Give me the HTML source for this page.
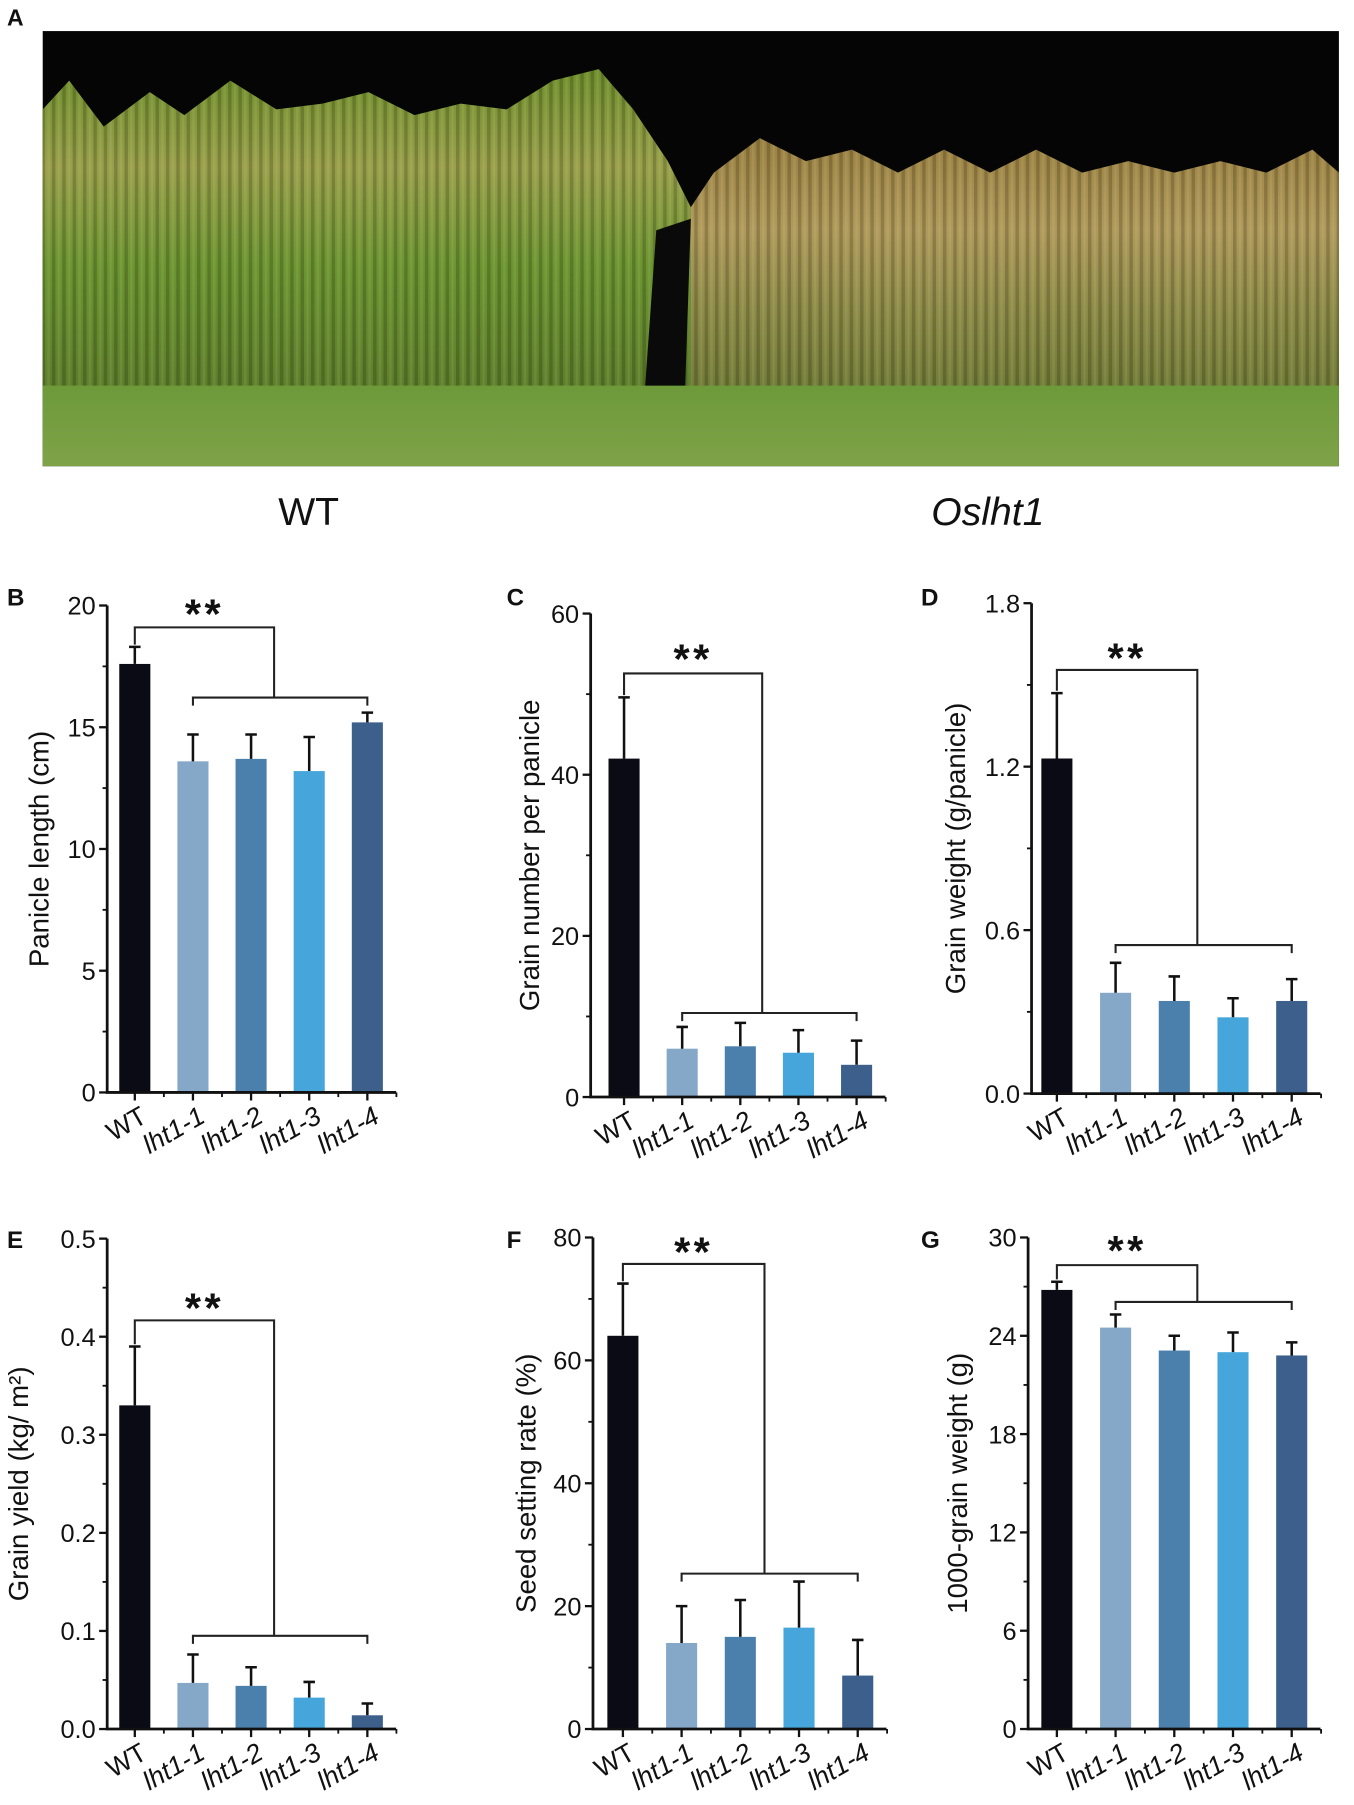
<!DOCTYPE html>
<html><head><meta charset="utf-8"><style>
html,body{margin:0;padding:0;background:#fff}
svg{display:block}
text{font-family:"Liberation Sans",Arial,sans-serif;fill:#111}
</style></head><body>
<svg id="fig" width="1354" height="1805" viewBox="0 0 1176 1568" xmlns="http://www.w3.org/2000/svg">
<defs>
<linearGradient id="wtg" x1="0" y1="0" x2="0" y2="1"><stop offset="0" stop-color="#6f8f2c"/><stop offset="0.3" stop-color="#9aa04a"/><stop offset="0.6" stop-color="#6c9530"/><stop offset="1" stop-color="#5d7d2a"/></linearGradient>
<linearGradient id="mtg" x1="0" y1="0" x2="0" y2="1"><stop offset="0" stop-color="#9a8040"/><stop offset="0.35" stop-color="#b09a5a"/><stop offset="0.7" stop-color="#8a8a45"/><stop offset="1" stop-color="#6f7a35"/></linearGradient>
<linearGradient id="grd" x1="0" y1="0" x2="0" y2="1"><stop offset="0" stop-color="#6d9a3a"/><stop offset="1" stop-color="#7fa248"/></linearGradient>
<pattern id="stripes" width="9" height="40" patternUnits="userSpaceOnUse"><rect width="3" height="40" fill="#000" opacity="0.18"/><rect x="5" width="2" height="40" fill="#fff" opacity="0.08"/></pattern>
</defs>
<text x="6" y="22" font-size="20" font-weight="bold">A</text>
<g>
<rect x="37" y="27" width="1126" height="378" fill="#050505"/>
<polygon points="37,95 60,70 90,110 130,80 160,100 200,70 240,95 280,90 320,80 360,100 400,90 440,95 480,70 520,60 550,95 580,140 600,180 600,345 37,345" fill="url(#wtg)"/>
<polygon points="600,180 620,150 660,120 700,140 740,130 780,150 820,130 860,150 900,130 940,150 980,140 1020,150 1060,140 1100,150 1140,130 1163,150 1163,345 600,345" fill="url(#mtg)"/>
<polygon points="37,95 60,70 90,110 130,80 160,100 200,70 240,95 280,90 320,80 360,100 400,90 440,95 480,70 520,60 550,95 580,140 600,180 620,150 660,120 700,140 740,130 780,150 820,130 860,150 900,130 940,150 980,140 1020,150 1060,140 1100,150 1140,130 1163,150 1163,345 37,345" fill="url(#stripes)"/>
<polygon points="570,200 600,190 595,340 560,340" fill="#0a0a0a"/>
<rect x="37" y="335" width="1126" height="70" fill="url(#grd)"/>
</g>
<text x="268" y="456" font-size="34" text-anchor="middle">WT</text>
<text x="858" y="456" font-size="34" font-style="italic" text-anchor="middle">Oslht1</text>
<g id="charts"></g>
</svg>
<script>
const categories = ["WT","lht1-1","lht1-2","lht1-3","lht1-4"];
const colors = ["#0b0b16","#86a8c8","#4b80ad","#46a6db","#3d5f8c"];
const bValues = [17.6,13.6,13.7,13.2,15.2];
const bErrors = [0.7,1.1,1.0,1.4,0.4];
const bTicks = [0,5,10,15,20];
const cValues = [42,6,6.3,5.5,4];
const cErrors = [7.6,2.7,2.9,2.8,3];
const cTicks = [0,20,40,60];
const dValues = [1.23,0.37,0.34,0.28,0.34];
const dErrors = [0.24,0.11,0.09,0.07,0.08];
const dTicks = [0.0,0.6,1.2,1.8];
const dTickLabels = ["0.0","0.6","1.2","1.8"];
const eValues = [0.33,0.047,0.044,0.032,0.014];
const eErrors = [0.06,0.029,0.019,0.016,0.012];
const eTicks = [0,0.1,0.2,0.3,0.4,0.5];
const eTickLabels = ["0.0","0.1","0.2","0.3","0.4","0.5"];
const fValues = [64,14,15,16.5,8.7];
const fErrors = [8.5,6,6,7.5,5.8];
const fTicks = [0,20,40,60,80];
const gValues = [26.8,24.5,23.1,23,22.8];
const gErrors = [0.5,0.8,0.9,1.2,0.8];
const gTicks = [0,6,12,18,24,30];

const NS="http://www.w3.org/2000/svg";
const root=document.getElementById('charts');
function mk(tag,attrs,parent,txt){const e=document.createElementNS(NS,tag);for(const k in attrs)e.setAttribute(k,attrs[k]);if(txt!==undefined)e.textContent=txt;parent.appendChild(e);return e;}

function panel(id,letter,lx,ly,axX,yTop,yBot,x0,step,vals,errs,ticks,tickLabels,ylabel,ylx,brTop,brEnd,brLow,starY){
  const g=mk('g',{},root);
  
  
  const max=ticks[ticks.length-1];
  const y=v=>yBot-(v/max)*(yBot-yTop);
  const x=i=>x0+i*step;
  const lt=mk('text',{x:lx,y:ly,'font-size':21,'font-weight':'bold'},g,letter);
  
  
  vals.forEach((v,i)=>{
    const b=mk('rect',{x:x(i)-13.5,y:y(v),width:27,height:yBot-y(v),fill:colors[i]},g);
    
    
    const top=y(v+errs[i]);
    const eb=mk('path',{d:`M${x(i)},${y(v)}V${top}M${x(i)-5},${top}H${x(i)+5}`,stroke:'#111','stroke-width':2.2,fill:'none'},g);
    
    
  });
  const ax=mk('path',{d:`M${axX},${yTop}V${yBot}H${x(4)+25}`,stroke:'#111','stroke-width':2.4,fill:'none'},g);
  
  
  ticks.forEach((t,i)=>{
    mk('line',{x1:axX-7,x2:axX,y1:y(t),y2:y(t),stroke:'#111','stroke-width':2},g);
    if(i<ticks.length-1){const m=(t+ticks[i+1])/2;mk('line',{x1:axX-4,x2:axX,y1:y(m),y2:y(m),stroke:'#111','stroke-width':1.6},g);}
    const tl=mk('text',{x:axX-10,y:y(t)+8,'font-size':22,'text-anchor':'end'},g,tickLabels?tickLabels[i]:String(t));
    
    
  });
  for(let i=0;i<5;i++){
    mk('line',{x1:x(i),x2:x(i),y1:yBot,y2:yBot+7,stroke:'#111','stroke-width':2},g);
    mk('line',{x1:x(i)+step/2,x2:x(i)+step/2,y1:yBot,y2:yBot+4,stroke:'#111','stroke-width':1.6},g);
    const t=mk('text',{x:x(i)+12,y:yBot+25,'font-size':23,'text-anchor':'end','font-style':i?'italic':'normal',transform:`rotate(-30 ${x(i)+12} ${yBot+25})`},g,categories[i]);
    
    
  }
  const yl=mk('text',{x:ylx,y:(yTop+yBot)/2,'font-size':24,'text-anchor':'middle',transform:`rotate(-90 ${ylx} ${(yTop+yBot)/2})`},g,ylabel);
  
  
  const br=mk('path',{d:`M${x(0)},${y(vals[0]+errs[0])-2}V${brTop}H${brEnd}V${brLow}M${x(1)},${brLow+7}V${brLow}H${x(4)}V${brLow+7}`,stroke:'#222','stroke-width':1.8,fill:'none'},g);
  
  
  const st=mk('text',{x:(x(0)+brEnd)/2,y:starY+6,'font-size':36,'font-weight':'bold','text-anchor':'middle','letter-spacing':'3'},g,'**');
  
  
  return g;
}
panel('b','B',6,526,93,526,949,117,50.5,bValues,bErrors,bTicks,null,'Panicle length (cm)',42,545,238,606,540);
panel('c','C',440,526,513,533,953,542,50.5,cValues,cErrors,cTicks,null,'Grain number per panicle',468,585,662,880,579);
panel('d','D',800,526,896,524,950,918,51,dValues,dErrors,dTicks,dTickLabels,'Grain weight (g/panicle)',838,582,1040,821,578);
panel('e','E',6,1084,93,1076,1502,117,50.5,eValues,eErrors,eTicks,eTickLabels,'Grain yield (kg/ m²)',24,1147,238,1421,1143);
panel('f','F',440,1084,515,1075,1502,541,51,fValues,fErrors,fTicks,null,'Seed setting rate (%)',465,1098,664,1367,1094);
panel('g','G',800,1084,893,1075,1502,918,51,gValues,gErrors,gTicks,null,'1000-grain weight (g)',840,1099,1040,1131,1093);
</script>
</body></html>
